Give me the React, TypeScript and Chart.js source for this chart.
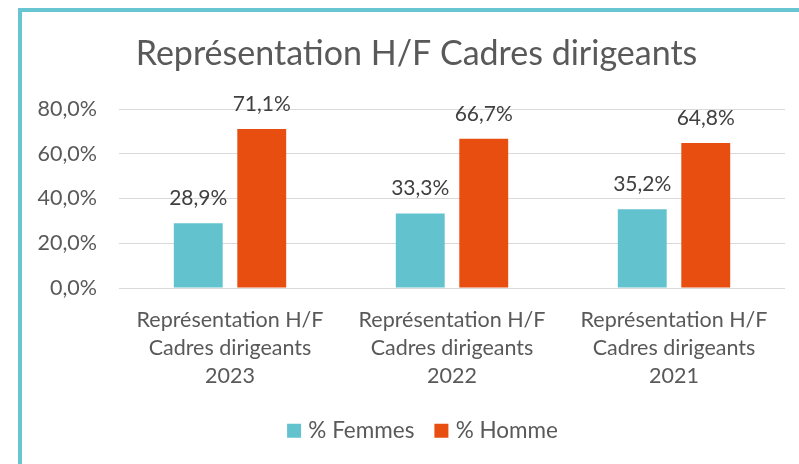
import React, { useEffect, useRef } from "react";
import { Chart, registerables } from "chart.js";

Chart.register(...registerables);

const titleText = "Représentation H/F Cadres dirigeants";
const categories = [
  ["Représentation H/F", "Cadres dirigeants", "2023"],
  ["Représentation H/F", "Cadres dirigeants", "2022"],
  ["Représentation H/F", "Cadres dirigeants", "2021"],
];
const femmes = [28.9, 33.3, 35.2];
const hommes = [71.1, 66.7, 64.8];
const seriesNames = ["% Femmes", "% Homme"];
const yMax = 80;
const yStep = 20;

const FONT = "Lato";
const TEAL = "#62C3CF";
const ORANGE = "#E84E10";
const AXIS_TEXT = "#595959";
const LABEL_TEXT = "#404040";

const W = 799;
const H = 464;

const fmt = (v: number) => v.toFixed(1).replace(".", ",") + "%";

const dataLabels = {
  id: "dataLabels",
  afterDatasetsDraw(chart: any) {
    const ctx = chart.ctx;
    ctx.save();
    ctx.font = `21px ${FONT}`;
    ctx.fillStyle = LABEL_TEXT;
    ctx.textAlign = "center";
    ctx.textBaseline = "alphabetic";
    chart.data.datasets.forEach((ds: any, i: number) => {
      const meta = chart.getDatasetMeta(i);
      meta.data.forEach((bar: any, j: number) => {
        ctx.fillText(fmt(ds.data[j]), bar.x, bar.y - 18);
      });
    });
    ctx.restore();
  },
};

// The original chart is wider than the visible crop: title and legend are
// centred on the full chart frame, not on the visible part.
const recenter = {
  id: "recenter",
  afterLayout(chart: any) {
    if (chart.titleBlock) {
      chart.titleBlock.left = 34;
      chart.titleBlock.right = W;
    }
    if (chart.legend) {
      chart.legend.left = 50;
      chart.legend.right = W;
    }
  },
};

export default function App() {
  const ref = useRef<HTMLCanvasElement | null>(null);
  useEffect(() => {
    if (!ref.current) return;
    const chart = new Chart(ref.current, {
      type: "bar",
      data: {
        labels: categories,
        datasets: [
          {
            label: seriesNames[0],
            data: femmes,
            backgroundColor: TEAL,
            categoryPercentage: 0.572,
            barPercentage: 0.77,
          },
          {
            label: seriesNames[1],
            data: hommes,
            backgroundColor: ORANGE,
            categoryPercentage: 0.572,
            barPercentage: 0.77,
          },
        ],
      },
      options: {
        animation: false,
        responsive: false,
        maintainAspectRatio: false,
        layout: { padding: { left: 0, right: W - 785, top: 0, bottom: 12 } },
        plugins: {
          title: {
            display: true,
            text: titleText,
            color: AXIS_TEXT,
            font: { family: FONT, size: 34, weight: "normal", lineHeight: 1.2 },
            padding: { top: 34, bottom: 34.2 },
          },
          legend: {
            display: true,
            position: "bottom",
            labels: {
              color: AXIS_TEXT,
              font: { family: FONT, size: 22.5 },
              boxWidth: 6,
              boxHeight: 6,
              padding: 24,
              generateLabels: (c: any) =>
                c.data.datasets.map((ds: any, i: number) => ({
                  text: ds.label,
                  fillStyle: ds.backgroundColor,
                  strokeStyle: ds.backgroundColor,
                  lineWidth: 8,
                  hidden: false,
                  datasetIndex: i,
                  fontColor: AXIS_TEXT,
                })),
            },
          },
          tooltip: { enabled: false },
        },
        scales: {
          x: {
            grid: { display: false, drawTicks: false },
            border: { display: false },
            ticks: {
              color: AXIS_TEXT,
              font: { family: FONT, size: 21.5, lineHeight: 1.3 },
              padding: 18,
              maxRotation: 0,
              autoSkip: false,
            },
            afterFit: (scale: any) => {
              scale.height = 176 - 12 - (22.5 + 24 + 10);
            },
          },
          y: {
            min: 0,
            max: yMax,
            grid: { color: "#D9D9D9", lineWidth: 1, drawTicks: false },
            border: { display: false },
            ticks: {
              stepSize: yStep,
              color: AXIS_TEXT,
              font: { family: FONT, size: 21.5 },
              padding: 22,
              callback: (v: any) => fmt(Number(v)),
            },
            afterFit: (scale: any) => {
              scale.width = 119;
            },
          },
        },
      },
      plugins: [dataLabels, recenter],
    });
    return () => chart.destroy();
  }, []);

  return (
    <div
      style={{
        position: "fixed",
        left: 0,
        top: 0,
        width: W,
        height: H,
        overflow: "hidden",
        background: "#fff",
      }}
    >
      <canvas
        ref={ref}
        width={W}
        height={H}
        style={{ position: "absolute", left: 0, top: 0, width: W, height: H }}
      />
      <div
        style={{
          position: "absolute",
          left: 18,
          top: 8,
          width: 900,
          height: 600,
          border: "4px solid #68C6D3",
          pointerEvents: "none",
        }}
      />
    </div>
  );
}
